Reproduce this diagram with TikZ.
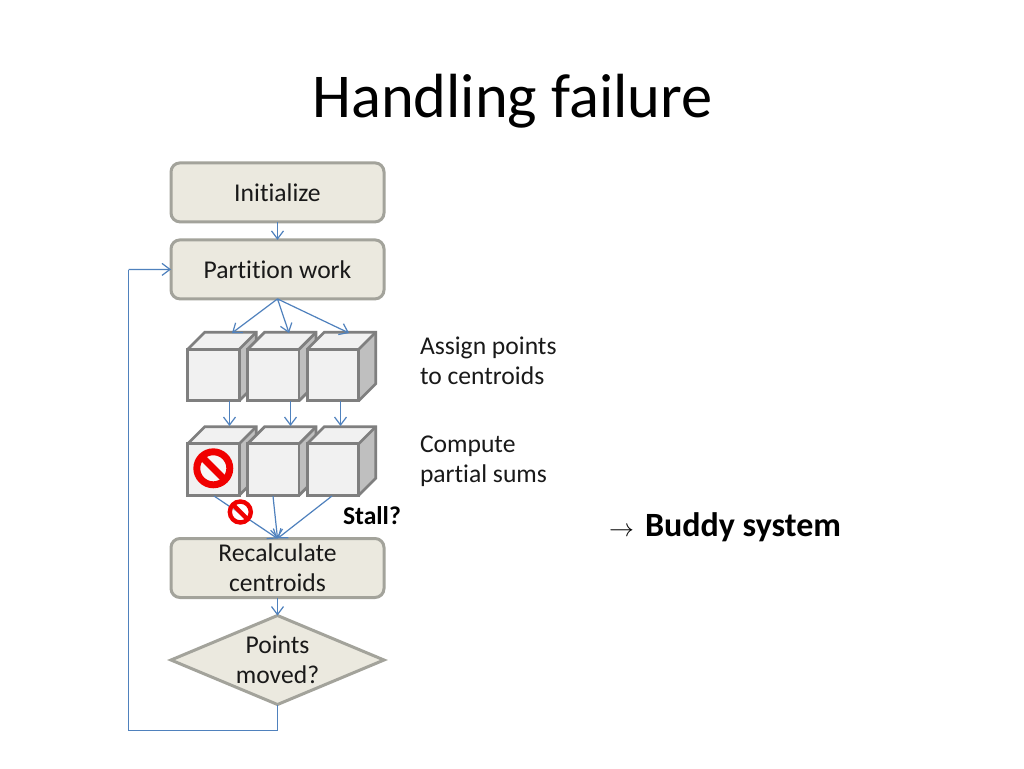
\documentclass[tikz,border=0pt]{standalone}
\usepackage{fontspec}
\setmainfont{Carlito}[Ligatures=CommonOff]
\usetikzlibrary{arrows.meta,shapes.geometric,calc}
\definecolor{boxfill}{HTML}{EBE9DF}
\definecolor{boxline}{HTML}{A3A39B}
\definecolor{flow}{HTML}{4F81BD}
\definecolor{cubeline}{HTML}{7F7F7F}
\definecolor{cubeface}{HTML}{F1F1F1}
\definecolor{cubeside}{HTML}{BFBFBF}
\definecolor{stopred}{HTML}{F00000}
\tikzset{
  every node/.style={inner sep=0pt,outer sep=0pt},
  procbox/.style={draw=boxline,fill=boxfill,line width=3pt,rounded corners=9pt,minimum width=213pt,minimum height=59pt,align=center,font=\fontsize{25.6}{30}\selectfont,text=black!90},
  decision/.style={diamond,aspect=2.38,draw=boxline,fill=boxfill,line width=3pt,minimum width=213pt,minimum height=89pt,align=center,font=\fontsize{25.6}{30}\selectfont,text=black!90},
  flowline/.style={draw=flow,line width=1.2pt,-{Straight Barb[length=8pt,width=12pt,line width=1.2pt]}},
  plainline/.style={draw=flow,line width=1.2pt},
  cubefront/.style={draw=cubeline,fill=cubeface,line width=2.8pt,minimum width=51.5pt,minimum height=51.5pt},
  note/.style={align=left,font=\fontsize{25.6}{30}\selectfont,text=black!90,anchor=west},
  stopsign/.style={circle,draw=stopred,fill=white,fill opacity=0.55,draw opacity=1},
}
\newcommand{\cubeat}[3]{%
  \fill[cubeface] (#2-25.75,#3-25.75) -- ++(17,-17) -- ++(51.5,0) -- ++(-17,17) -- cycle;
  \fill[cubeside] (#2+25.75,#3-25.75) -- ++(17,-17) -- ++(0,51.5) -- ++(-17,17) -- cycle;
  \draw[cubeline,line width=2.8pt,line join=miter] (#2-25.75,#3-25.75) -- ++(17,-17) -- ++(51.5,0) -- ++(0,51.5) -- ++(-17,17);
  \draw[cubeline,line width=2.8pt] (#2+25.75,#3-25.75) -- ++(17,-17);
  \node[cubefront] (#1) at (#2,#3) {};
}
\newcommand{\stopat}[4]{%
  \node[stopsign,minimum size=#4pt,line width=#4*0.21pt] (#1) at (#2,#3) {};
  \draw[stopred,line width=#4*0.21pt] ($(#1.center)+(-#4*0.3,-#4*0.3)$) -- ($(#1.center)+(#4*0.3,#4*0.3)$);
}
\begin{document}
\begin{tikzpicture}[x=1pt,y=-1pt]
\useasboundingbox[fill=white] (0,0) rectangle (1024,768);

\node[font=\fontsize{62.4}{70}\selectfont] (title) at (512.5,101) {Handling failure};

\node[procbox] (init) at (277.5,192.4) {Initialize};
\node[procbox] (part) at (277.5,269.4) {Partition work};
\node[procbox] (recalc) at (277.5,568) {Recalculate\\centroids};
\node[decision] (moved) at (277.5,660) {Points\\moved?};

\draw[flowline] (init) -- (part);

\cubeat{a1}{213.5}{375}
\cubeat{a2}{273.3}{375}
\cubeat{a3}{333}{375}
\cubeat{b1}{213.5}{469.5}
\cubeat{b2}{273.3}{469.5}
\cubeat{b3}{333}{469.5}

\coordinate (ta1) at (232,333);
\coordinate (ta2) at (289,333);
\coordinate (ta3) at (349,333);
\draw[flowline] (part.south) -- (ta1);
\draw[flowline] (part.south) -- (ta2);
\draw[flowline] (part.south) -- (ta3);

\coordinate (sa1) at (229.5,401);
\coordinate (ea1) at (229.5,426);
\coordinate (sa2) at (290.5,401);
\coordinate (ea2) at (290.5,426);
\coordinate (sa3) at (340.5,401);
\coordinate (ea3) at (340.5,426);
\draw[flowline] (sa1) -- (ea1);
\draw[flowline] (sa2) -- (ea2);
\draw[flowline] (sa3) -- (ea3);

\coordinate (sb1) at (214,496);
\coordinate (sb2) at (273,496);
\coordinate (sb3) at (332,496);
\draw[flowline] (sb1) -- (recalc.north);
\draw[flowline] (sb2) -- (recalc.north);
\draw[flowline] (sb3) -- (recalc.north);

\draw[flowline] (recalc) -- (moved);
\coordinate (lo) at (277.5,730.5);
\coordinate (ll) at (128.5,730.5);
\coordinate (ul) at (128.5,269.5);
\draw[plainline] (moved.south) -- (lo) -- (ll) -- (ul);
\draw[flowline] (ul) -- (part.west);

\stopat{stopbig}{213.3}{468.3}{33}
\stopat{stopsmall}{240.3}{512}{21}

\node[note] (n1) at (420,360.5) {Assign points\\to centroids};
\node[note] (n2) at (420,461) {Compute\\partial sums};
\node[font=\bfseries\fontsize{25.6}{30}\selectfont,anchor=west] (stall) at (343,516) {Stall?};
\node[font=\bfseries\fontsize{34}{40}\selectfont,anchor=west] (buddy) at (609,527) {$\rightarrow$\hspace{3.5pt} Buddy system};
\end{tikzpicture}
\end{document}
